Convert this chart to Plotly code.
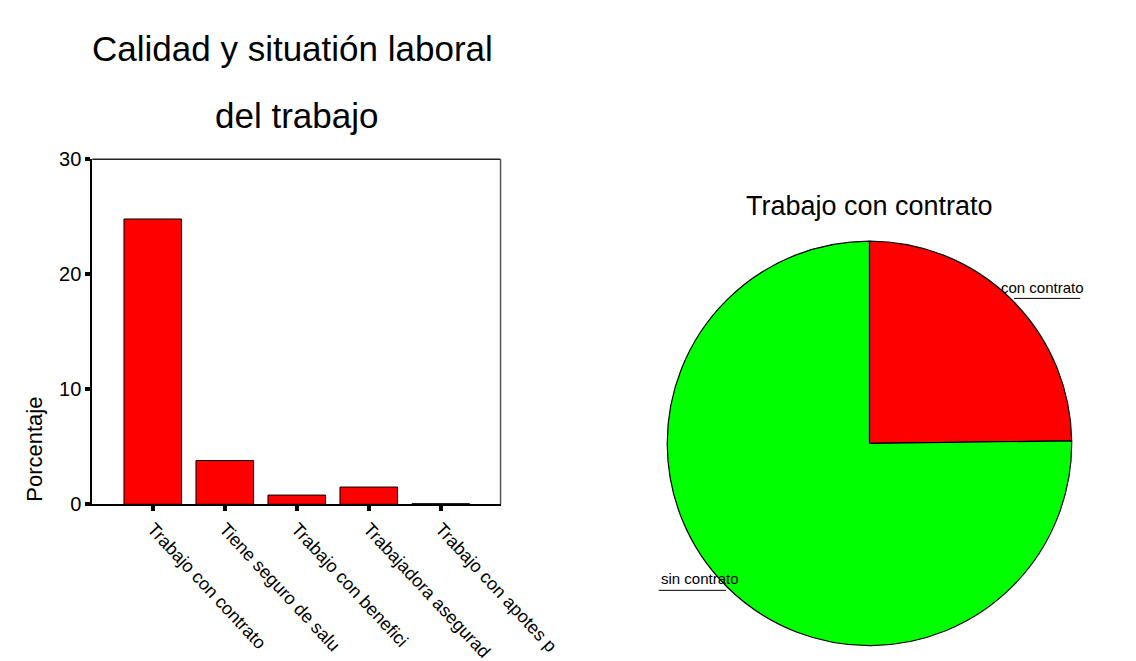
import plotly.graph_objects as go

# ---- data ----
bar_categories = ["Trabajo con contrato", "Tiene seguro de salu", "Trabajo con benefici",
                  "Trabajadora asegurad", "Trabajo con apotes p"]
bar_values = [24.8, 3.8, 0.8, 1.5, 0.05]
y_ticks = [0, 10, 20, 30]

pie_labels = ["con contrato", "sin contrato"]
pie_values = [24.8, 75.2]
pie_colors = ["#ff0000", "#00ff00"]

W, H = 1136, 661
FONT = "Liberation Sans, Arial, sans-serif"

def px(x):
    return x / W

def py(y):
    return (H - y) / H

fig = go.Figure()

fig.add_trace(go.Bar(
    x=bar_categories, y=bar_values,
    marker=dict(color="#ff0000", line=dict(color="black", width=1)),
    width=0.8, xaxis="x", yaxis="y", showlegend=False, hoverinfo="x+y",
))

fig.add_trace(go.Pie(
    labels=pie_labels, values=pie_values, sort=False, direction="clockwise", rotation=0,
    marker=dict(colors=pie_colors, line=dict(color="black", width=1.2)),
    textinfo="none", showlegend=False,
    domain=dict(x=[px(696), px(1123)], y=[py(653), py(225)]),
))

fig.update_layout(
    width=W, height=H,
    margin=dict(l=0, r=0, t=0, b=0),
    paper_bgcolor="white", plot_bgcolor="white",
    font=dict(family=FONT, color="black", size=16),
    xaxis=dict(
        domain=[px(89), px(520)], range=[-0.84, 4.83],
        showline=True, linecolor="black", linewidth=2, mirror=False,
        ticks="outside", ticklen=5, tickwidth=4, tickcolor="black",
        tickangle=47, tickfont=dict(size=18), showgrid=False, zeroline=False,
    ),
    yaxis=dict(
        domain=[py(502), py(145)], range=[0, 30],
        tickvals=y_ticks, ticktext=[str(v) for v in y_ticks],
        showline=True, linecolor="black", linewidth=2, mirror=False,
        ticks="outside", ticklen=5, tickwidth=4, tickcolor="black",
        tickfont=dict(size=20), showgrid=False, zeroline=False,
    ),
    annotations=[
        dict(text="Calidad y situatión laboral", x=px(300), y=py(30), xref="paper", yref="paper",
             showarrow=False, font=dict(size=35), xanchor="center", yanchor="middle"),
        dict(text="del trabajo", x=px(305), y=py(100), xref="paper", yref="paper",
             showarrow=False, font=dict(size=35), xanchor="center", yanchor="middle"),
        dict(text="Porcentaje", x=px(28), y=py(445), xref="paper", yref="paper",
             showarrow=False, font=dict(size=22), textangle=-90, xanchor="center", yanchor="middle"),
        dict(text="Trabajo con contrato", x=px(910), y=py(193), xref="paper", yref="paper",
             showarrow=False, font=dict(size=27), xanchor="center", yanchor="middle"),
        dict(text="con contrato", x=px(1046), y=py(278), xref="paper", yref="paper",
             showarrow=False, font=dict(size=15), xanchor="left", yanchor="middle"),
        dict(text="sin contrato", x=px(687), y=py(579), xref="paper", yref="paper",
             showarrow=False, font=dict(size=15), xanchor="left", yanchor="middle"),
    ],
    shapes=[
        dict(type="line", xref="x domain", yref="y domain", x0=0, x1=1, y0=1, y1=1,
             line=dict(color="#222222", width=1.5)),
        dict(type="line", xref="x domain", yref="y domain", x0=1, x1=1, y0=0, y1=1,
             line=dict(color="#555555", width=1.5)),
        dict(type="line", xref="paper", yref="paper", x0=px(1062), x1=px(1132), y0=py(289), y1=py(289),
             line=dict(color="black", width=1)),
        dict(type="line", xref="paper", yref="paper", x0=px(687), x1=px(758), y0=py(591), y1=py(591),
             line=dict(color="black", width=1)),
    ],
)

fig.write_html("out.html")
